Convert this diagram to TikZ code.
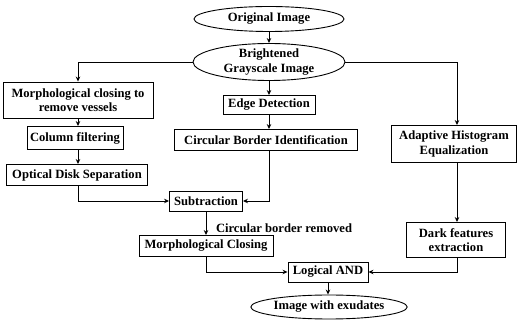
\documentclass[tikz,border=0pt]{standalone}
\usepackage{fontspec}
\setmainfont{Liberation Serif}
\usetikzlibrary{shapes.geometric,arrows.meta}
\begin{document}
\begin{tikzpicture}[x=1pt,y=-1pt,
  every node/.style={font=\fontsize{12.6}{14.5}\selectfont\bfseries, align=center, inner sep=0pt},
  box/.style={draw, line width=0.9pt, rectangle},
  ell/.style={draw, line width=0.9pt, ellipse},
  conn/.style={line width=0.9pt, -{Stealth[length=5pt,width=4.5pt]}}]
\useasboundingbox (0,0) rectangle (517,320);
\node[ell, minimum width=150, minimum height=25] (orig) at (269,19) {Original Image};
\node[ell, minimum width=152, minimum height=37] (bright) at (269,62) {Brightened\\Grayscale Image};
\node[box, minimum width=92, minimum height=19] (edge) at (269,105) {Edge Detection};
\node[box, minimum width=183, minimum height=21] (circ) at (266,140) {Circular Border Identification};
\node[box, minimum width=150, minimum height=36] (morph) at (78,100) {Morphological closing to\\remove vessels};
\node[box, minimum width=96, minimum height=23] (col) at (75,138) {Column filtering};
\node[box, minimum width=141, minimum height=21] (opt) at (77,175) {Optical Disk Separation};
\node[box, minimum width=73, minimum height=20] (sub) at (206,201) {Subtraction};
\node[box, minimum width=134, minimum height=21] (mclose) at (206,246) {Morphological Closing};
\node (lbl) at (284,228) {Circular border removed};
\node[box, minimum width=80, minimum height=20] (and) at (328,272) {Logical AND};
\node[ell, minimum width=138, minimum height=24] (exu) at (329,307) {Image with exudates};
\node[box, minimum width=125, minimum height=37] (adapt) at (454,144) {Adaptive Histogram\\Equalization};
\node[box, minimum width=99, minimum height=35] (dark) at (456,240) {Dark features\\extraction};

\draw[conn] (orig) -- (bright);
\draw[conn] (bright) -- (edge);
\draw[conn] (edge) -- (circ.north -| edge);
\draw[conn] (bright.west) -| (morph.north);
\draw[conn] (bright.east) -| (adapt.north -| 457,0);
\draw[conn] (morph) -- (col.north -| morph);
\draw[conn] (col.south -| morph) -- (opt.north -| morph);
\draw[conn] (opt.south -| morph) |- (sub.west);
\draw[conn] (circ.south -| 269,0) |- (sub.east);
\draw[conn] (sub) -- (mclose);
\draw[conn] (mclose.south) |- (and.west);
\draw[conn] (adapt.south -| 457,0) -- (dark.north -| 457,0);
\draw[conn] (dark.south -| 457,0) |- (and.east);
\draw[conn] (and) -- (exu.north -| and);
\end{tikzpicture}
\end{document}
